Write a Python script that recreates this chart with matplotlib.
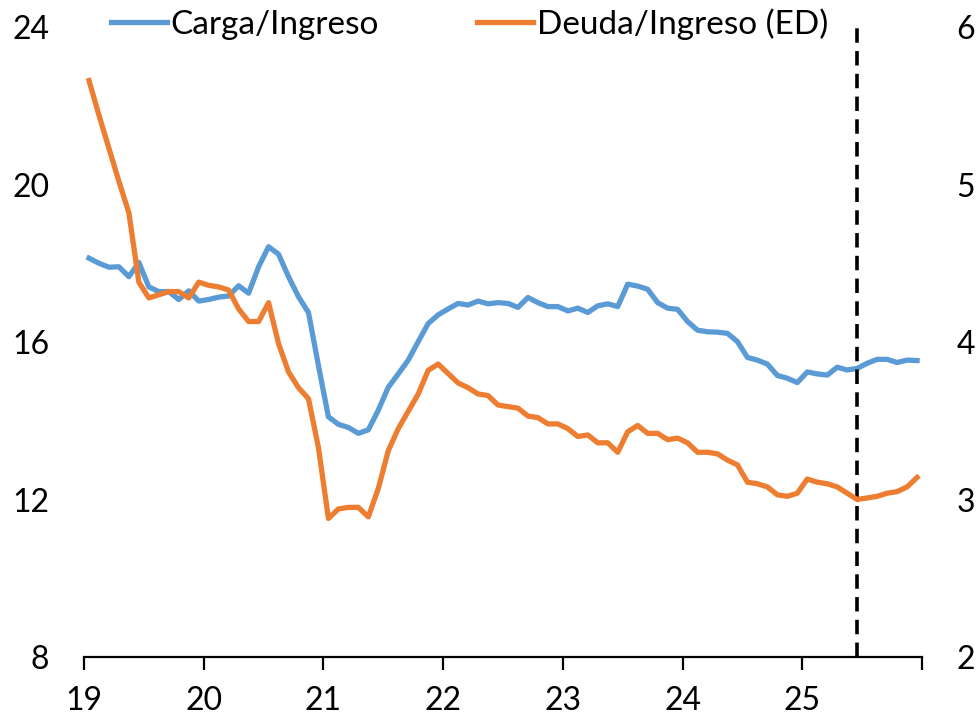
import numpy as np
import matplotlib
matplotlib.use("Agg")
import matplotlib.pyplot as plt

# --- Datos (mensuales, ene-2019 a dic-2025) ---
carga_ingreso = [
    18.13, 18.00, 17.90, 17.91, 17.66, 18.02, 17.40, 17.28, 17.28, 17.08, 17.30, 17.04,
    17.08, 17.14, 17.17, 17.43, 17.24, 17.91, 18.42, 18.23, 17.66, 17.15, 16.75, 15.40,
    14.10, 13.91, 13.83, 13.68, 13.77, 14.27, 14.85, 15.19, 15.54, 16.01, 16.47, 16.69,
    16.84, 16.98, 16.94, 17.04, 16.97, 17.00, 16.98, 16.88, 17.13, 17.00, 16.90, 16.90,
    16.79, 16.86, 16.75, 16.92, 16.97, 16.90, 17.47, 17.42, 17.34, 17.00, 16.86, 16.83,
    16.52, 16.30, 16.26, 16.25, 16.22, 16.01, 15.61, 15.54, 15.44, 15.15, 15.08, 14.97,
    15.24, 15.19, 15.16, 15.36, 15.29, 15.33, 15.46, 15.56, 15.56, 15.48, 15.54, 15.53,
]
deuda_ingreso = [
    5.66, 5.44, 5.23, 5.02, 4.82, 4.38, 4.28, 4.30, 4.32, 4.32, 4.28, 4.38,
    4.36, 4.35, 4.33, 4.21, 4.13, 4.13, 4.25, 3.99, 3.81, 3.71, 3.64, 3.33,
    2.88, 2.94, 2.95, 2.95, 2.89, 3.07, 3.31, 3.45, 3.56, 3.67, 3.82, 3.86,
    3.80, 3.74, 3.71, 3.67, 3.66, 3.60, 3.59, 3.58, 3.53, 3.52, 3.48, 3.48,
    3.45, 3.40, 3.41, 3.36, 3.36, 3.30, 3.43, 3.47, 3.42, 3.42, 3.38, 3.39,
    3.36, 3.30, 3.30, 3.29, 3.25, 3.22, 3.11, 3.10, 3.08, 3.03, 3.02, 3.04,
    3.13, 3.11, 3.10, 3.08, 3.04, 3.00, 3.01, 3.02, 3.04, 3.05, 3.08, 3.14,
]
anio_inicio = 19
anios = [19, 20, 21, 22, 23, 24, 25, 26]
etiquetas_x = ["19", "20", "21", "22", "23", "24", "25", ""]
mes_corte = 77  # jun-2025

x = anio_inicio + (np.arange(len(carga_ingreso)) + 0.5) / 12
x_corte = anio_inicio + (mes_corte + 0.5) / 12

plt.rcParams["font.family"] = ["Lato", "DejaVu Sans"]
fs = 23

fig = plt.figure(figsize=(9.79, 7.15), dpi=100)
ax = fig.add_axes([0.0858, 0.0811, 0.856, 0.8811])
ax2 = ax.twinx()

l1, = ax.plot(x, carga_ingreso, color="#5B9BD5", lw=3.8, solid_joinstyle="round",
              label="Carga/Ingreso")
l2, = ax2.plot(x, deuda_ingreso, color="#ED7D31", lw=3.8, solid_joinstyle="round",
               label="Deuda/Ingreso (ED)")
ax.axvline(x_corte, color="black", lw=2.6, ls=(0, (4, 2.3)))

ax.set_xlim(19, 26)
ax.set_ylim(8, 24)
ax.set_yticks([8, 12, 16, 20, 24])
ax2.set_ylim(2, 6)
ax2.set_yticks([2, 3, 4, 5, 6])
ax.set_xticks(anios)
ax.set_xticklabels(etiquetas_x)

for a in (ax, ax2):
    for s in ("top", "left", "right"):
        a.spines[s].set_visible(False)
    a.spines["bottom"].set_linewidth(1.6)
ax2.spines["bottom"].set_visible(False)

ax.tick_params(axis="x", length=9, width=1.6, pad=12, labelsize=fs)
ax.tick_params(axis="y", length=0, pad=25, labelsize=fs)
ax2.tick_params(axis="y", length=0, pad=25, labelsize=fs)

fig.legend(handles=[l1, l2], loc="center", bbox_to_anchor=(0.4796, 0.966), ncol=2,
           frameon=False, fontsize=24, handlelength=1.68, handletextpad=0.12,
           columnspacing=2.95, borderpad=0.1)

fig.savefig("out.png", dpi=100)
